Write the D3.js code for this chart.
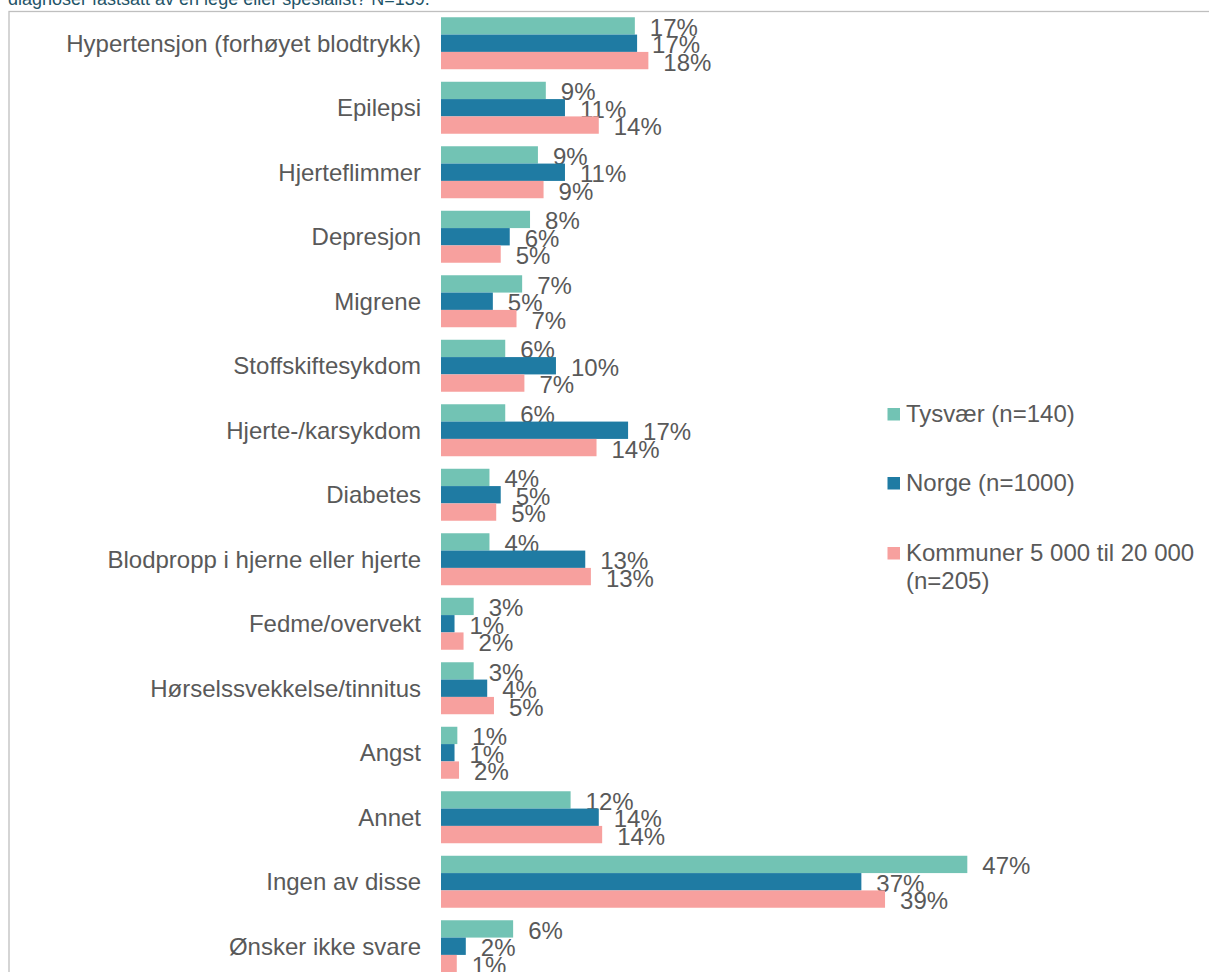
<!DOCTYPE html>
<html><head><meta charset="utf-8">
<script src="https://cdn.jsdelivr.net/npm/d3@7"></script>
<style>body{margin:0;background:#fff}svg{display:block}text{font-family:"Liberation Sans",Arial,sans-serif}</style>
</head><body><svg id="c" width="1209" height="972"></svg>
<script>
const categories = ["Hypertensjon (forhøyet blodtrykk)","Epilepsi","Hjerteflimmer","Depresjon","Migrene","Stoffskiftesykdom","Hjerte-/karsykdom","Diabetes","Blodpropp i hjerne eller hjerte","Fedme/overvekt","Hørselssvekkelse/tinnitus","Angst","Annet","Ingen av disse","Ønsker ikke svare"];
const seriesNames = ["Tysvær (n=140)","Norge (n=1000)","Kommuner 5 000 til 20 000 (n=205)"];
const tysvaer  = [17.2, 9.3, 8.6, 7.9, 7.2, 5.7, 5.7, 4.3, 4.3, 2.9, 2.9, 1.45, 11.5, 46.7, 6.4];
const norge    = [17.4, 11.0, 11.0, 6.1, 4.6, 10.2, 16.6, 5.3, 12.8, 1.2, 4.1, 1.2, 14.0, 37.3, 2.2];
const kommuner = [18.4, 14.0, 9.1, 5.3, 6.7, 7.4, 13.8, 4.9, 13.3, 2.0, 4.7, 1.6, 14.3, 39.4, 1.4];
const colors = ["#72C3B4","#1F7BA3","#F7A09E"];
const title = "diagnoser fastsatt av en lege eller spesialist? N=139.";

const svg = d3.select("#c");
const values = [tysvaer, norge, kommuner];

// frame
svg.append("rect").attr("x",9).attr("y",11.5).attr("width",1260).attr("height",1100)
  .attr("fill","none").attr("stroke","#BFBFBF").attr("stroke-width",1.3);

svg.append("text").attr("x",8).attr("y",4.5).attr("font-size",18).attr("fill","#1F5468").text(title);

const y = d3.scaleBand().domain(categories).range([11, 11 + 64.5*categories.length]).paddingInner(0.194).paddingOuter(0.097);
const ySub = d3.scaleBand().domain([0,1,2]).range([0, y.bandwidth()]);
const x = d3.scaleLinear().domain([0, 50]).range([441, 441 + 11.27*50]);

const g = svg.append("g");
categories.forEach((c, i) => {
  values.forEach((arr, s) => {
    const v = arr[i];
    const yy = y(c) + ySub(s);
    g.append("rect").attr("x", x(0)).attr("y", yy).attr("width", x(v)-x(0)).attr("height", ySub.bandwidth())
      .attr("fill", colors[s]);
    g.append("text").attr("x", x(v)+15).attr("y", yy + ySub.bandwidth()/2 + 10)
      .attr("font-size",24).attr("fill","#595959").text(Math.round(v)+"%");
  });
  g.append("text").attr("x", 421).attr("y", y(c) + y.bandwidth()/2 + 8.4).attr("text-anchor","end")
    .attr("font-size",24).attr("fill","#595959").text(c);
});

// legend
const legY = [408, 477, 547];
const legLines = [["Tysvær (n=140)"],["Norge (n=1000)"],["Kommuner 5 000 til 20 000","(n=205)"]];
legLines.forEach((lines, s) => {
  svg.append("rect").attr("x",887.5).attr("y",legY[s]).attr("width",12.5).attr("height",12.5).attr("fill",colors[s]);
  lines.forEach((t, j) => {
    svg.append("text").attr("x",906).attr("y",legY[s]+14 + j*28).attr("font-size",24).attr("fill","#595959").text(t);
  });
});
</script></body></html>
